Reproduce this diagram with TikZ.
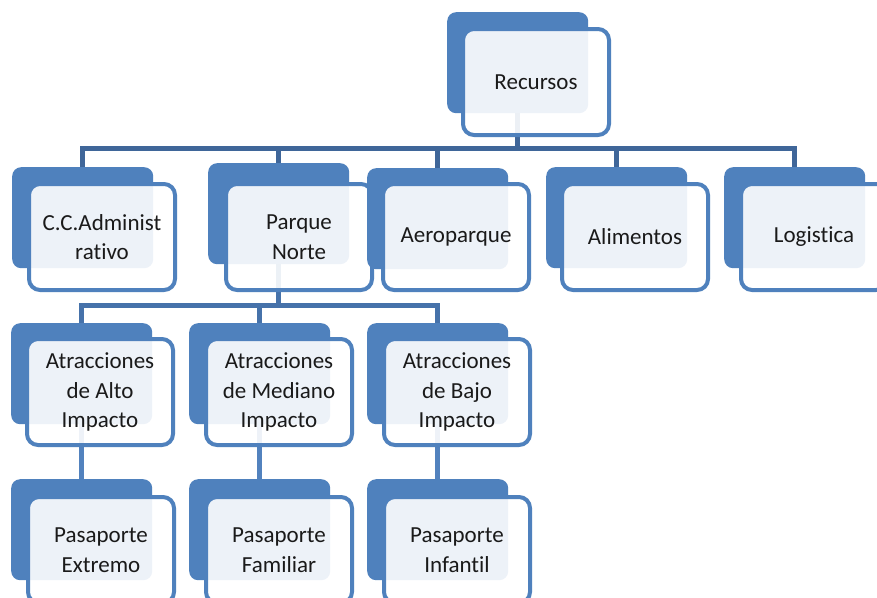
\documentclass[tikz,border=0pt]{standalone}
\usepackage{fontspec}
\setmainfont[Ligatures={NoCommon}]{Carlito}
\usetikzlibrary{calc}
\definecolor{boxblue}{HTML}{4F81BD}
\definecolor{linedark}{HTML}{3F6699}
\definecolor{linemid}{HTML}{4672AA}
\definecolor{linelight}{HTML}{5282BE}
\definecolor{txt}{HTML}{1A1A1A}
\pgfdeclarelayer{bg}
\pgfsetlayers{bg,main}
\tikzset{
  backbox/.style={draw=none, fill=boxblue, rounded corners=9pt,
    minimum width=141pt, minimum height=101pt, anchor=north west, inner sep=0pt},
  frontbox/.style={draw=boxblue, line width=4pt, fill=white, fill opacity=0.9,
    text opacity=1, rounded corners=11pt, minimum width=146pt, minimum height=106pt,
    anchor=north west, inner sep=0pt, align=center, text=txt,
    font=\fontsize{23}{29.5}\selectfont},
  conn/.style={line width=4.5pt, draw=linedark},
  connmid/.style={line width=4.5pt, draw=linemid},
  connlight/.style={line width=4.5pt, draw=linelight},
}
\newcommand\orgunit[4]{%
  \node[backbox] (#1B) at (#2) {};
  \node[frontbox] (#1) at (#3) {#4};}
\begin{document}
\begin{tikzpicture}[x=1pt,y=-1pt]
\useasboundingbox (0,0) rectangle (877,597);
\clip (0,0) rectangle (877,597);
% level 0
\orgunit{rec}{447,12}{461,27}{Recursos}
% level 1
\orgunit{cc}{12,167}{27,182}{C.C.Administ\\rativo}
\orgunit{pn}{208,163}{224,182}{Parque\\Norte}
\orgunit{aer}{367,168}{381,182}{Aeroparque}
\orgunit{ali}{546,167}{560,182}{Alimentos}
\orgunit{log}{724,167}{739,182}{Logistica}
% level 2
\orgunit{alto}{11,323}{25,337}{Atracciones\\de Alto\\Impacto}
\orgunit{med}{189,323}{204,337}{Atracciones\\de Mediano\\Impacto}
\orgunit{bajo}{367,323}{382,337}{Atracciones\\de Bajo\\Impacto}
% level 3
\orgunit{ext}{11,479}{26,495}{Pasaporte\\Extremo}
\orgunit{fam}{189,479}{204,495}{Pasaporte\\Familiar}
\orgunit{inf}{367,479}{382,495}{Pasaporte\\Infantil}
% connectors
\begin{pgfonlayer}{bg}
\fill[white] (0,0) rectangle (877,597);
\coordinate (j1) at ($(recB.south)+(0,35)$);
\draw[conn] (recB.south) -- (j1);
\draw[conn] (j1) -| (ccB.north);
\draw[conn] (j1) -| (pnB.north);
\draw[conn] (j1) -| (aerB.north);
\draw[conn] (j1) -| (aliB.north);
\draw[conn] (j1) -| (logB.north);
\coordinate (j2) at ($(pnB.south)+(0,41)$);
\draw[connmid] (pnB.south) -- (j2);
\draw[connmid] (j2) -| (altoB.north);
\draw[connmid] (j2) -| (medB.north);
\draw[connmid] (j2) -| (bajoB.north);
\draw[connlight] (altoB.south) -- (extB.north);
\draw[connlight] (medB.south) -- (famB.north);
\draw[connlight] (bajoB.south) -- (infB.north);
\end{pgfonlayer}
\end{tikzpicture}
\end{document}
